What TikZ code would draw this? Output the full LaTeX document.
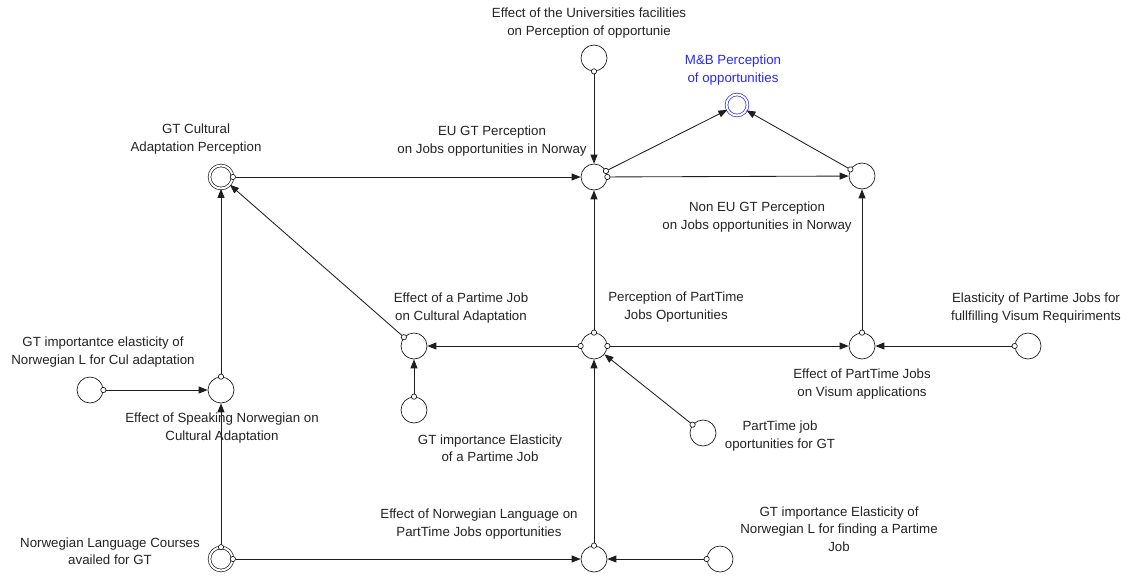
\documentclass[tikz,border=0pt]{standalone}
\usepackage{fontspec}
\setmainfont{Liberation Sans}
\usetikzlibrary{arrows.meta}
\definecolor{linec}{RGB}{30,30,30}
\definecolor{textc}{RGB}{35,35,35}
\definecolor{mbblue}{RGB}{40,40,250}
\begin{document}
\begin{tikzpicture}[x=1pt,y=-1pt,
  var/.style={circle, draw=linec, line width=0.7pt, minimum size=26pt, inner sep=0pt},
  dbl/.style={circle, draw=linec, line width=0.7pt, double, double distance=2pt, minimum size=23pt, inner sep=0pt},
  goal/.style={circle, draw=mbblue, line width=0.7pt, double, double distance=2pt, minimum size=21pt, inner sep=0pt},
  lab/.style={font=\fontsize{13.3}{17.5}\selectfont, align=center, text=textc, inner sep=0pt},
  link/.style={draw=linec, line width=0.85pt,
    {Circle[length=6pt,fill=white,line width=0.7pt]}-{Triangle[length=9pt,width=7pt]},
    shorten <=-3pt}
]
\useasboundingbox (0,0) rectangle (1131,576);

% variables
\node[var]  (uni)   at (594,58)  {};
\node[goal] (mb)    at (737,105) {};
\node[var]  (eu)    at (594,177) {};
\node[var]  (noneu) at (862,176) {};
\node[dbl]  (gtc)   at (221,177) {};
\node[var]  (ptp)   at (594,346) {};
\node[var]  (epc)   at (414,346) {};
\node[var]  (gte)   at (414,410) {};
\node[var]  (epv)   at (862,346) {};
\node[var]  (evr)   at (1028,346) {};
\node[var]  (ptj)   at (703,433) {};
\node[var]  (esn)   at (221,390) {};
\node[var]  (gtn)   at (90,390)  {};
\node[dbl]  (nlc)   at (221,559) {};
\node[var]  (enl)   at (594,559) {};
\node[var]  (gtnp)  at (720,559) {};

% labels
\node[lab] (uniL)   at (589,23)  {Effect of the Universities facilities\\on Perception of opportunie};
\node[lab, text=mbblue] (mbL) at (733,70) {M\&B Perception\\of opportunities};
\node[lab] (euL)    at (492,141) {EU GT Perception\\on Jobs opportunities in Norway};
\node[lab] (noneuL) at (757,217) {Non EU GT Perception\\on Jobs opportunities in Norway};
\node[lab] (gtcL)   at (196,139) {GT Cultural\\Adaptation Perception};
\node[lab] (epcL)   at (461,308) {Effect of a Partime Job\\on Cultural Adaptation};
\node[lab] (ptpL)   at (676,307) {Perception of PartTime\\Jobs Oportunities};
\node[lab] (evrL)   at (1036,308) {Elasticity of Partime Jobs for\\fullfilling Visum Requiriments};
\node[lab] (epvL)   at (862,384) {Effect of PartTime Jobs\\on Visum applications};
\node[lab] (ptjL)   at (780,436) {PartTime job\\oportunities for GT};
\node[lab] (gteL)   at (490,448) {GT importance Elasticity\\of a Partime Job};
\node[lab] (gtnL)   at (103,352) {GT importantce elasticity of\\Norwegian L for Cul adaptation};
\node[lab] (esnL)   at (222,428) {Effect of Speaking Norwegian on\\Cultural Adaptation};
\node[lab] (nlcL)   at (110,551) {Norwegian Language Courses\\availed for GT};
\node[lab] (enlL)   at (479,524) {Effect of Norwegian Language on\\PartTime Jobs opportunities};
\node[lab] (gtnpL)  at (839,529) {GT importance Elasticity of\\Norwegian L for finding a Partime\\Job};

% causal links
\draw[link] (uni) -- (eu);
\draw[link] (eu) -- (mb);
\draw[link] (eu) -- (noneu);
\draw[link] (noneu) -- (mb);
\draw[link] (gtc) -- (eu);
\draw[link] (ptp) -- (eu);
\draw[link] (epv) -- (noneu);
\draw[link] (ptp) -- (epc);
\draw[link] (ptp) -- (epv);
\draw[link] (evr) -- (epv);
\draw[link] (ptj) -- (ptp);
\draw[link] (gte) -- (epc);
\draw[link] (epc) -- (gtc);
\draw[link] (esn) -- (gtc);
\draw[link] (gtn) -- (esn);
\draw[link] (nlc) -- (esn);
\draw[link] (nlc) -- (enl);
\draw[link] (gtnp) -- (enl);
\draw[link] (enl) -- (ptp);
\end{tikzpicture}
\end{document}
